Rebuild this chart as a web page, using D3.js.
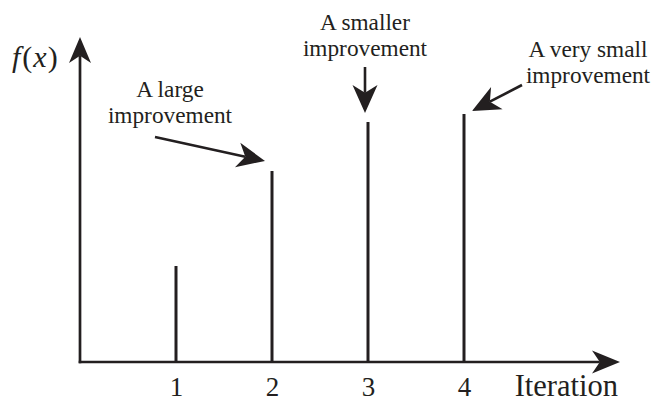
<!DOCTYPE html>
<html>
<head>
<meta charset="utf-8">
<script src="https://cdn.jsdelivr.net/npm/d3@7"></script>
</head>
<body style="margin:0">
<svg id="chart" width="653" height="400"></svg>
<script>
// ---- data ----
const iterations = [1, 2, 3, 4];
const fValues = [0.96, 1.91, 2.40, 2.48];
const tickLabels = ["1", "2", "3", "4"];
const xAxisLabel = "Iteration";
const annotationLines = [
  ["A large", "improvement"],
  ["A smaller", "improvement"],
  ["A very small", "improvement"]
];
const annotationTargets = [2, 3, 4];

// ---- layout ----
const ink = "#231f20";
const svg = d3.select("#chart");

const x = d3.scaleLinear().domain([0, 5.625]).range([80, 620]);
const y = d3.scaleLinear().domain([0, 3.25]).range([362, 37]);

function arrow(x1, y1, x2, y2, L, Wd, sw) {
  const dx = x2 - x1, dy = y2 - y1;
  const len = Math.hypot(dx, dy);
  const ux = dx / len, uy = dy / len;
  const px = -uy, py = ux;
  const notch = 0.72 * L;
  svg.append("line")
    .attr("x1", x1).attr("y1", y1)
    .attr("x2", x2 - ux * notch).attr("y2", y2 - uy * notch)
    .attr("stroke", ink).attr("stroke-width", sw);
  const bx = x2 - ux * L, by = y2 - uy * L;
  const pts = [
    [x2, y2],
    [bx + px * Wd / 2, by + py * Wd / 2],
    [x2 - ux * notch, y2 - uy * notch],
    [bx - px * Wd / 2, by - py * Wd / 2]
  ];
  svg.append("path")
    .attr("d", "M" + pts.map(p => p.join(",")).join("L") + "Z")
    .attr("fill", ink);
}

function txt(sel, size) {
  return sel.style("font-family", `"Liberation Serif"`)
    .style("font-size", size + "px").attr("fill", ink);
}

// bars (vertical lines)
svg.selectAll("line.bar")
  .data(iterations)
  .join("line")
  .attr("class", "bar")
  .attr("x1", d => x(d)).attr("x2", d => x(d))
  .attr("y1", y(0)).attr("y2", (d, i) => y(fValues[i]))
  .attr("stroke", ink).attr("stroke-width", 3);

// axes
arrow(x(0), y(0) + 1.3, x(0), y.range()[1], 26, 22, 2.7);
arrow(x(0) - 1.3, y(0), x.range()[1], y(0), 28, 23, 2.7);

// x tick labels via d3 axis
const xAxis = d3.axisBottom(x).tickValues(iterations)
  .tickFormat((d, i) => tickLabels[i]).tickSize(0);
const gx = svg.append("g").attr("transform", `translate(0,${y(0)})`).call(xAxis);
gx.attr("font-family", null).attr("font-size", null);
gx.select(".domain").remove();
txt(gx.selectAll("text").attr("y", 34).attr("dy", 0), 27);

// axis labels
txt(svg.append("text").attr("x", 618).attr("y", 396).attr("text-anchor", "end"), 30.5)
  .text(xAxisLabel);

const fl = txt(svg.append("text").attr("x", 12).attr("y", 67), 30);
fl.append("tspan").style("font-style", "italic").text("f");
fl.append("tspan").attr("dx", 2).text("(");
fl.append("tspan").attr("dx", 1).style("font-style", "italic").text("x");
fl.append("tspan").attr("dx", 1).text(")");

// annotations
const annLayout = [
  { cx: 170, base: 97, from: [155, 137], tipDx: -7, tipDy: -10 },
  { cx: 365, base: 30, from: [365, 67], tipDx: -3, tipDy: -9 },
  { cx: 588, base: 57, from: [522, 85], tipDx: 8, tipDy: -3 }
];
annotationLines.forEach((lines, i) => {
  const L = annLayout[i];
  const t = txt(svg.append("text"), 23.3).attr("text-anchor", "middle");
  lines.forEach((s, k) => {
    t.append("tspan").attr("x", L.cx).attr("y", L.base + k * 25.5).text(s);
  });
  const idx = annotationTargets[i] - 1;
  const tx = x(iterations[idx]) + L.tipDx;
  const ty = y(fValues[idx]) + L.tipDy;
  arrow(L.from[0], L.from[1], tx, ty, 28, 25, 2.6);
});
</script>
</body>
</html>
